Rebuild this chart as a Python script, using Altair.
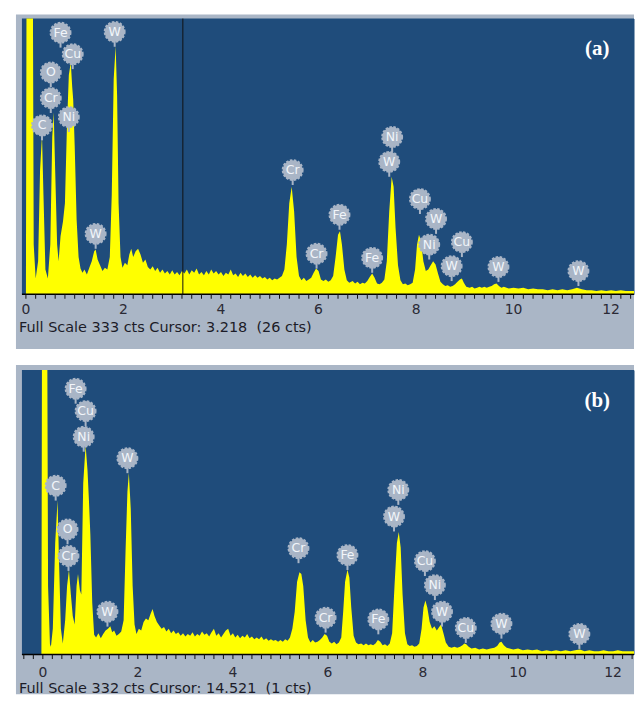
import altair as alt
import pandas as pd

# ---------------- Panel (a) spectrum ----------------
A_KEV = [0.00, 0.02, 0.13, 0.16, 0.20, 0.25, 0.29, 0.33, 0.36, 0.40, 0.45, 0.50, 0.54, 0.57, 0.60, 0.64,
         0.67, 0.71, 0.76, 0.80, 0.84, 0.88, 0.92, 0.95, 0.97, 1.00, 1.04, 1.08, 1.12, 1.16, 1.20, 1.25,
         1.30, 1.35, 1.40, 1.43, 1.47, 1.52, 1.57, 1.62, 1.67, 1.72, 1.76, 1.80, 1.84, 1.87, 1.90, 1.94,
         1.98, 2.03, 2.08, 2.12, 2.16, 2.20, 2.25, 2.30, 2.35, 2.40, 2.45, 2.50, 2.55, 2.60, 2.65, 2.70,
         2.75, 2.80, 2.85, 2.90, 2.95, 3.00, 3.05, 3.10, 3.15, 3.20, 3.25, 3.30, 3.35, 3.40, 3.45, 3.50,
         3.55, 3.60, 3.65, 3.70, 3.75, 3.80, 3.85, 3.90, 3.95, 4.00, 4.05, 4.10, 4.15, 4.20, 4.25, 4.30,
         4.35, 4.40, 4.45, 4.50, 4.55, 4.60, 4.65, 4.70, 4.75, 4.80, 4.85, 4.90, 4.95, 5.00, 5.05, 5.10,
         5.15, 5.20, 5.25, 5.30, 5.35, 5.40, 5.45, 5.50, 5.55, 5.60, 5.65, 5.70, 5.75, 5.80, 5.85, 5.90,
         5.95, 6.00, 6.05, 6.10, 6.15, 6.20, 6.25, 6.30, 6.35, 6.40, 6.44, 6.48, 6.53, 6.58, 6.63, 6.70,
         6.75, 6.80, 6.85, 6.90, 6.95, 7.00, 7.05, 7.10, 7.15, 7.20, 7.25, 7.30, 7.35, 7.40, 7.45, 7.50,
         7.54, 7.58, 7.63, 7.68, 7.73, 7.78, 7.83, 7.88, 7.93, 7.98, 8.02, 8.06, 8.10, 8.15, 8.20, 8.25,
         8.30, 8.35, 8.40, 8.45, 8.50, 8.55, 8.60, 8.65, 8.70, 8.75, 8.80, 8.85, 8.90, 8.94, 8.98, 9.03,
         9.10, 9.15, 9.20, 9.25, 9.30, 9.35, 9.40, 9.45, 9.50, 9.55, 9.60, 9.65, 9.70, 9.75, 9.80, 9.90,
         10.0, 10.1, 10.2, 10.3, 10.4, 10.5, 10.6, 10.7, 10.8, 10.9, 11.0, 11.1, 11.2, 11.3, 11.4, 11.5,
         11.6, 11.7, 11.8, 11.9, 12.0, 12.1, 12.2, 12.3, 12.47]
A_CTS = [0, 600, 600, 60, 19, 40, 150, 192, 120, 30, 19, 60, 190, 220, 150, 60,
         40, 70, 88, 110, 200, 265, 280, 250, 235, 180, 90, 45, 31, 26, 30, 24,
         32, 40, 52, 54, 42, 35, 28, 32, 30, 45, 120, 260, 300, 240, 110, 45,
         32, 38, 35, 48, 55, 45, 52, 55, 48, 38, 42, 33, 30, 34, 28, 32,
         26, 30, 25, 28, 24, 29, 24, 27, 23, 28, 25, 30, 24, 29, 26, 31,
         24, 27, 23, 28, 24, 30, 25, 28, 24, 27, 22, 26, 24, 30, 23, 25,
         21, 26, 22, 25, 21, 24, 20, 23, 20, 22, 19, 21, 18, 20, 17, 19,
         18, 20, 22, 30, 60, 110, 130, 100, 45, 22, 17, 20, 16, 18, 20, 26,
         31, 28, 18, 16, 18, 15, 17, 22, 45, 72, 76, 60, 30, 17, 14, 16,
         13, 15, 12, 14, 13, 16, 21, 25, 20, 13, 12, 14, 18, 40, 100, 142,
         130, 80, 35, 17, 12, 13, 11, 12, 14, 30, 60, 72, 65, 40, 28, 30,
         35, 40, 36, 25, 15, 12, 10, 11, 9, 10, 12, 15, 18, 19, 14, 9,
         8, 9, 7, 8, 9, 8, 9, 8, 9, 10, 12, 13, 10, 8, 9, 7,
         8, 7, 8, 6, 7, 6, 6, 5, 6, 5, 6, 5, 6, 8, 6, 5,
         5, 4, 5, 4, 5, 4, 5, 4, 4]

A_LBL_KEV = [0.71, 0.96, 0.51, 0.51, 0.88, 0.33, 1.82, 1.43, 5.47, 5.96, 6.43, 7.10, 7.51, 7.45,
             8.08, 8.41, 8.27, 8.94, 8.73, 9.69, 11.33]
A_LBL_CTS = [316, 290, 268, 237, 214, 204, 317, 73, 150, 49, 96, 44, 190, 160,
             115, 91, 60, 63, 34, 33, 28]
A_LBL_TXT = ["Fe", "Cu", "O", "Cr", "Ni", "C", "W", "W", "Cr", "Cr", "Fe", "Fe", "Ni", "W",
             "Cu", "W", "Ni", "Cu", "W", "W", "W"]

# ---------------- Panel (b) spectrum ----------------
B_KEV = [-0.03, -0.01, 0.08, 0.11, 0.15, 0.17, 0.21, 0.26, 0.31, 0.34, 0.38, 0.42, 0.47, 0.51, 0.55, 0.59,
         0.63, 0.67, 0.71, 0.74, 0.78, 0.81, 0.85, 0.90, 0.94, 0.97, 1.00, 1.04, 1.08, 1.12, 1.17, 1.22,
         1.27, 1.32, 1.37, 1.42, 1.46, 1.50, 1.55, 1.60, 1.65, 1.70, 1.74, 1.78, 1.81, 1.85, 1.89, 1.93,
         1.97, 2.02, 2.07, 2.12, 2.17, 2.22, 2.27, 2.31, 2.35, 2.40, 2.45, 2.50, 2.55, 2.60, 2.65, 2.70,
         2.75, 2.80, 2.85, 2.90, 2.95, 3.00, 3.05, 3.10, 3.15, 3.20, 3.25, 3.30, 3.35, 3.40, 3.45, 3.50,
         3.55, 3.60, 3.65, 3.70, 3.75, 3.80, 3.85, 3.90, 3.95, 4.00, 4.05, 4.10, 4.15, 4.20, 4.25, 4.30,
         4.35, 4.40, 4.45, 4.50, 4.55, 4.60, 4.65, 4.70, 4.75, 4.80, 4.85, 4.90, 4.95, 5.00, 5.05, 5.10,
         5.15, 5.20, 5.25, 5.30, 5.35, 5.40, 5.44, 5.48, 5.53, 5.58, 5.63, 5.68, 5.73, 5.78, 5.83, 5.88,
         5.93, 5.98, 6.03, 6.08, 6.13, 6.18, 6.23, 6.28, 6.32, 6.36, 6.41, 6.45, 6.49, 6.54, 6.59, 6.64,
         6.70, 6.75, 6.80, 6.85, 6.90, 6.95, 7.00, 7.05, 7.10, 7.15, 7.20, 7.25, 7.30, 7.35, 7.40, 7.45,
         7.49, 7.53, 7.57, 7.62, 7.67, 7.72, 7.77, 7.82, 7.87, 7.92, 7.97, 8.01, 8.05, 8.09, 8.14, 8.19,
         8.24, 8.29, 8.34, 8.38, 8.43, 8.48, 8.54, 8.60, 8.66, 8.72, 8.78, 8.83, 8.87, 8.91, 8.96, 9.02,
         9.10, 9.18, 9.26, 9.34, 9.42, 9.50, 9.56, 9.61, 9.65, 9.70, 9.76, 9.82, 9.90, 10.0, 10.1, 10.2,
         10.3, 10.4, 10.5, 10.6, 10.7, 10.8, 10.9, 11.0, 11.1, 11.2, 11.3, 11.4, 11.5, 11.6, 11.7, 11.8,
         11.9, 12.0, 12.1, 12.2, 12.3, 12.44]
B_CTS = [0, 600, 600, 80, 12, 9, 30, 130, 180, 110, 30, 13, 40, 80, 99, 70,
         45, 35, 80, 94, 75, 70, 200, 244, 215, 180, 140, 60, 23, 20, 25, 19,
         24, 28, 30, 33, 26, 28, 22, 24, 27, 40, 120, 190, 212, 170, 80, 35,
         24, 30, 28, 38, 42, 40, 48, 53, 45, 38, 34, 30, 32, 27, 30, 25,
         28, 24, 26, 22, 25, 21, 24, 22, 26, 21, 24, 22, 27, 23, 25, 21,
         26, 30, 22, 25, 20, 24, 28, 30, 22, 25, 20, 23, 19, 22, 20, 24,
         19, 21, 18, 20, 18, 21, 17, 19, 16, 18, 16, 17, 15, 17, 15, 18,
         16, 20, 30, 50, 85, 96, 94, 80, 40, 20, 14, 17, 14, 15, 17, 20,
         24, 22, 15, 13, 15, 12, 14, 20, 50, 85, 99, 90, 55, 22, 14, 12,
         13, 11, 13, 11, 12, 11, 13, 17, 15, 11, 12, 10, 13, 25, 80, 130,
         143, 125, 70, 25, 12, 10, 11, 9, 10, 13, 30, 55, 63, 55, 38, 30,
         33, 28, 32, 35, 25, 14, 9, 8, 9, 8, 9, 11, 13, 12, 9, 7,
         8, 6, 7, 6, 7, 8, 10, 14, 15, 11, 8, 7, 6, 7, 5, 6,
         5, 6, 4, 5, 4, 5, 4, 5, 4, 5, 6, 4, 5, 4, 4, 5,
         4, 4, 5, 4, 4, 4]

B_LBL_KEV = [0.69, 0.90, 0.86, 1.78, 0.27, 0.52, 0.54, 1.36, 5.38, 5.95, 6.41, 7.06, 7.48, 7.39,
             8.04, 8.25, 8.40, 8.90, 9.65, 11.29]
B_LBL_CTS = [310, 284, 254, 229, 197, 146, 115, 50, 124, 43, 116, 41, 192, 161,
             109, 81, 50, 31, 36, 24]
B_LBL_TXT = ["Fe", "Cu", "Ni", "W", "C", "O", "Cr", "W", "Cr", "Cr", "Fe", "Fe", "Ni", "W",
             "Cu", "Ni", "W", "Cu", "W", "W"]

AXIS_LABELS = [0, 2, 4, 6, 8, 10, 12]
CAPTION_A = "Full Scale 333 cts Cursor: 3.218\u00a0\u00a0(26 cts)"
CAPTION_B = "Full Scale 332 cts Cursor: 14.521\u00a0\u00a0(1 cts)"
CURSOR_A = [3.218]

BLUE = "#1f4c7b"
FRAME = "#aab6c6"
BUBBLE = "#a9b5c6"
YELLOW = "#ffff00"
W = 615
UI_FONT = "DejaVu Sans"


def panel(kev, cts, lk, lc, lt, xdom, full, h, caption, tag, frame_top, frame_bot,
          cap_off, lab_off, cursor=None):
    ticks = [round(i * 0.2, 1) for i in range(-5, 70) if xdom[0] <= round(i * 0.2, 1) <= xdom[1]]
    xs = alt.Scale(domain=xdom, nice=False, zero=False)
    ys = alt.Scale(domain=[0, full], nice=False, zero=True)
    X = alt.X("kev:Q", scale=xs, title=None, axis=None)
    Y = alt.Y("cts:Q", scale=ys, axis=None)
    spec = pd.DataFrame({"kev": kev, "cts": cts})
    lbl = pd.DataFrame({"kev": lk, "cts": lc, "el": lt})
    one = pd.DataFrame({"a": [0]})

    frame = alt.Chart(one).mark_rect(color=FRAME).encode(
        x=alt.value(-6), x2=alt.value(W), y=alt.value(frame_top), y2=alt.value(h + frame_bot))
    blue = alt.Chart(one).mark_rect(color=BLUE).encode(
        x=alt.value(0), x2=alt.value(W), y=alt.value(0), y2=alt.value(h))
    area = alt.Chart(spec).mark_area(color=YELLOW, clip=True, interpolate="linear").encode(
        x=X, y=Y)
    layers = [frame, blue, area]
    if cursor is not None:
        cur = alt.Chart(pd.DataFrame({"kev": cursor})).mark_rule(color="#111", strokeWidth=1).encode(
            x=X, y=alt.value(0), y2=alt.value(h))
        layers.append(cur)
    # axis drawn as marks: baseline, minor ticks every 0.2 keV, labels every 2 keV
    base = alt.Chart(one).mark_rule(color="#000", strokeWidth=1.5).encode(
        x=alt.value(0), x2=alt.value(W), y=alt.value(h))
    tk = alt.Chart(pd.DataFrame({"kev": ticks})).mark_rule(color="#111", strokeWidth=1).encode(
        x=X, y=alt.value(h), y2=alt.value(h + 4.5))
    tl = alt.Chart(pd.DataFrame({"kev": AXIS_LABELS})).mark_text(
        color="#2a2a35", fontSize=14, font=UI_FONT, baseline="top", align="center").encode(
        x=X, y=alt.value(h + lab_off), text=alt.Text("kev:Q", format="d"))
    stem = alt.Chart(lbl).mark_rule(color=BUBBLE, strokeWidth=2, yOffset=9, y2Offset=15).encode(
        x=X, y=Y, y2="cts:Q")
    bub = alt.Chart(lbl).mark_point(shape="circle", filled=True, size=400, fill=BUBBLE,
                                    opacity=1, stroke=BUBBLE, strokeWidth=2,
                                    strokeDash=[2.5, 1.5]).encode(x=X, y=Y)
    txt = alt.Chart(lbl).mark_text(color="#f2f5fa", fontSize=12.5, font=UI_FONT,
                                   baseline="middle", align="center").encode(
        x=X, y=Y, text="el:N")
    cap = alt.Chart(one).mark_text(text=caption, color="#1c1c28", fontSize=14.5,
                                   font=UI_FONT, align="left", baseline="middle").encode(
        x=alt.value(-3), y=alt.value(h + cap_off))
    tg = alt.Chart(one).mark_text(text=tag, color="#ffffff", fontSize=21, fontWeight="bold",
                                  font="Liberation Serif", align="center", baseline="middle").encode(
        x=alt.value(W - 37), y=alt.value(31))
    layers += [base, tk, tl, stem, bub, txt, cap, tg]
    return alt.layer(*layers).properties(width=W, height=h)


pa = panel(A_KEV, A_CTS, A_LBL_KEV, A_LBL_CTS, A_LBL_TXT, [-4 / 49, 611 / 49], 333, 277,
           CAPTION_A, "(a)", -4, 55, 34, 9, cursor=CURSOR_A)
pb = panel(B_KEV, B_CTS, B_LBL_KEV, B_LBL_CTS, B_LBL_TXT, [-21 / 47.75, 594 / 47.75], 332, 286,
           CAPTION_B, "(b)", -5, 40, 35, 12)

chart = alt.vconcat(pa, pb, spacing=14).properties(
    padding={"left": 7, "top": 4, "right": 0, "bottom": 0},
    background="white",
).configure_view(stroke="transparent", fill=BLUE)

chart.save("out.html", embed_options={"renderer": "svg", "actions": False})
